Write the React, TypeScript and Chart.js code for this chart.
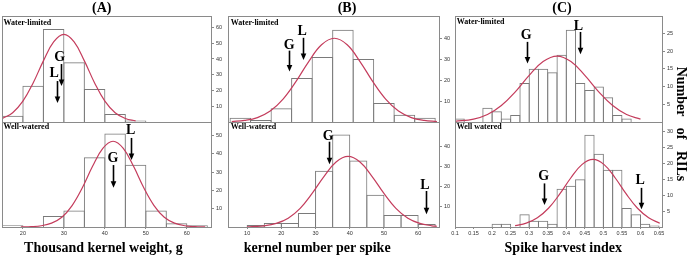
import React, { useEffect, useRef } from "react";
import { Chart, registerables } from "chart.js";
Chart.register(...registerables);

// ---------------- Panel A: thousand kernel weight (g) ----------------
const tkwTicks = [20, 30, 40, 50, 60];
const tkwTickLabels = ["20", "30", "40", "50", "60"];
const tkwWLBinCenters = [17.5, 22.5, 27.5, 32.5, 37.5, 42.5, 47.5];
const tkwWLCounts = [4, 23, 59, 38, 21, 5, 1];
const tkwWWBinCenters = [17.5, 22.5, 27.5, 32.5, 37.5, 42.5, 47.5, 52.5, 57.5, 62.5];
const tkwWWCounts = [1, 0, 6, 9, 38, 51, 34, 9, 2, 1];
const tkwWLCurveX = [15, 17.5, 20, 22.5, 25, 27.5, 30, 32.5, 35, 37.5, 40, 42.5, 45, 47.5];
const tkwWLCurveY = [2.2, 5.9, 13.2, 24.8, 38.8, 50.8, 55.6, 50.8, 38.8, 24.8, 13.2, 5.9, 2.2, 0.7];
const tkwWWCurveX = [19.5, 22, 24.5, 27, 29.5, 32, 34.5, 37, 39.5, 42, 44.5, 47, 49.5, 52, 54.5, 57, 59.5, 62, 64.5];
const tkwWWCurveY = [0.04, 0.2, 0.7, 2.1, 5.3, 11.7, 21.4, 33.1, 42.9, 46.8, 42.9, 33.1, 21.4, 11.7, 5.3, 2.1, 0.7, 0.2, 0.04];
const tkwWLYTicks = [10, 20, 30, 40, 50, 60];
const tkwWWYTicks = [10, 20, 30, 40, 50];
const tkwWLMarks = [
  { label: "G", labelX: 29.0, labelY: 41.9, x: 29.3, top: 36.8, tip: 22.9 },
  { label: "L", labelX: 27.6, labelY: 31.8, x: 28.2, top: 26.0, tip: 12.1 },
];
const tkwWWMarks = [
  { label: "G", labelX: 42.0, labelY: 38.0, x: 42.0, top: 33.8, tip: 21.4 },
  { label: "L", labelX: 46.3, labelY: 53.5, x: 46.5, top: 48.6, tip: 36.6 },
];

// ---------------- Panel B: kernel number per spike ----------------
const knsTicks = [10, 20, 30, 40, 50, 60];
const knsTickLabels = ["10", "20", "30", "40", "50", "60"];
const knsWLBinCenters = [8, 14, 20, 26, 32, 38, 44, 50, 56, 62];
const knsWLCounts = [2, 1, 6.5, 21, 31, 44, 30, 9, 3.5, 2];
const knsWWBinCenters = [12.5, 17.5, 22.5, 27.5, 32.5, 37.5, 42.5, 47.5, 52.5, 57.5, 62.5];
const knsWWCounts = [1, 2, 2, 7, 28, 46, 33, 16, 6, 6, 1.5];
const knsWLCurveX = [5.5, 9.25, 13, 16.75, 20.5, 24.25, 28, 31.75, 35.5, 39.25, 43, 46.75, 50.5, 54.25, 58, 61.75, 65.5];
const knsWLCurveY = [0.22, 0.74, 2.1, 5.2, 10.9, 19.2, 28.8, 36.8, 39.9, 36.8, 28.8, 19.2, 10.9, 5.2, 2.1, 0.74, 0.22];
const knsWWCurveX = [10, 11.5, 15, 18.5, 22, 25.5, 29, 32.5, 36, 39.5, 43, 46.5, 50, 53.5, 57, 60.5, 64, 65.5];
const knsWWCurveY = [0.1, 0.18, 0.6, 1.8, 4.4, 9.3, 16.7, 25.2, 32.3, 35.1, 32.3, 25.2, 16.7, 9.3, 4.4, 1.8, 0.6, 0.36];
const knsWLYTicks = [10, 20, 30, 40];
const knsWWYTicks = [10, 20, 30, 40];
const knsWLMarks = [
  { label: "G", labelX: 22.3, labelY: 37.0, x: 22.3, top: 34.0, tip: 24.0 },
  { label: "L", labelX: 26.1, labelY: 43.8, x: 26.3, top: 40.1, tip: 29.5 },
];
const knsWWMarks = [
  { label: "G", labelX: 33.7, labelY: 45.8, x: 33.9, top: 42.4, tip: 31.2 },
  { label: "L", labelX: 62.0, labelY: 21.2, x: 62.25, top: 17.9, tip: 6.3 },
];

// ---------------- Panel C: spike harvest index ----------------
const shiTicks = [0.1, 0.15, 0.2, 0.25, 0.3, 0.35, 0.4, 0.45, 0.5, 0.55, 0.6, 0.65];
const shiTickLabels = ["0.1", "0.15", "0.2", "0.25", "0.3", "0.35", "0.4", "0.45", "0.5", "0.55", "0.6", "0.65"];
const shiWLBinCenters = [0.1125, 0.1375, 0.1625, 0.1875, 0.2125, 0.2375, 0.2625, 0.2875, 0.3125, 0.3375, 0.3625, 0.3875, 0.4125, 0.4375, 0.4625, 0.4875, 0.5125, 0.5375, 0.5625];
const shiWLCounts = [1, 0, 0, 4, 3, 1, 2, 11, 15, 15, 14, 19, 26, 11, 9, 10, 7, 2, 1];
const shiWWBinCenters = [0.2125, 0.2375, 0.2625, 0.2875, 0.3125, 0.3375, 0.3625, 0.3875, 0.4125, 0.4375, 0.4625, 0.4875, 0.5125, 0.5375, 0.5625, 0.5875, 0.6125, 0.6375];
const shiWWCounts = [1, 1, 0, 4, 2, 2, 1, 12, 13, 15, 29, 23, 18, 18, 6, 4, 1, 0.5];
const shiWLCurveX = [0.1, 0.15, 0.1875, 0.225, 0.2625, 0.3, 0.3375, 0.375, 0.4125, 0.45, 0.4875, 0.525, 0.5625, 0.6];
const shiWLCurveY = [0.17, 0.82, 2.12, 4.64, 8.52, 13.14, 17.05, 18.6, 17.05, 13.14, 8.52, 4.64, 2.12, 0.82];
const shiWWCurveX = [0.262, 0.292, 0.322, 0.352, 0.382, 0.412, 0.442, 0.472, 0.502, 0.532, 0.562, 0.592, 0.622, 0.652];
const shiWWCurveY = [0.42, 1.2, 2.9, 5.9, 10.3, 15.4, 19.6, 21.25, 19.6, 15.4, 10.3, 5.9, 2.9, 1.2];
const shiWLYTicks = [5, 10, 15, 20, 25];
const shiWWYTicks = [5, 10, 15, 20, 25, 30];
const shiWLMarks = [
  { label: "G", labelX: 0.292, labelY: 24.7, x: 0.293, top: 22.6, tip: 16.5 },
  { label: "L", labelX: 0.433, labelY: 27.3, x: 0.437, top: 25.4, tip: 19.1 },
];
const shiWWMarks = [
  { label: "G", labelX: 0.339, labelY: 16.3, x: 0.341, top: 13.7, tip: 6.9 },
  { label: "L", labelX: 0.599, labelY: 15.1, x: 0.601, top: 12.3, tip: 5.6 },
];

const SERIF = "'Liberation Serif', 'Times New Roman', serif";
const SANS = "'Liberation Sans', Arial, sans-serif";
const GRAY = "#8a8a8a";
const BAR = "#7a7a7a";
const CURVE = "#c43c5c";

type Mark = { label: string; labelX: number; labelY: number; x: number; top: number; tip: number };
type Spec = {
  frame: { left: number; top: number; width: number; height: number };
  xMin: number; xMax: number; xTicks: number[]; xTickLabels: string[]; showX: boolean;
  yMax: number; yTicks: number[];
  binWidth: number; binCenters: number[]; counts: number[];
  curveX: number[]; curveY: number[]; marks: Mark[];
};

const PADL = 10, PADT = 10, PADB = 10, YW = 22, XH = 12;

const framePlugin = {
  id: "frame",
  afterDatasetsDraw(chart: any) {
    const { ctx, chartArea: a } = chart;
    ctx.save();
    ctx.strokeStyle = GRAY;
    ctx.lineWidth = 1;
    ctx.strokeRect(Math.round(a.left) + 0.5, Math.round(a.top) + 0.5, Math.round(a.right - a.left), Math.round(a.bottom - a.top));
    ctx.restore();
  },
};

function marksPlugin(marks: Mark[]) {
  return {
    id: "marks",
    afterDraw(chart: any) {
      const { ctx } = chart;
      const xs = chart.scales.x, ys = chart.scales.y;
      ctx.save();
      ctx.fillStyle = "#000";
      ctx.strokeStyle = "#000";
      ctx.font = `bold 14px ${SERIF}`;
      ctx.textAlign = "center";
      ctx.textBaseline = "alphabetic";
      for (const m of marks) {
        const lx = xs.getPixelForValue(m.labelX);
        const ly = ys.getPixelForValue(m.labelY);
        ctx.fillText(m.label, lx, ly + 4.7);
        const px = Math.round(xs.getPixelForValue(m.x)) + 0.5;
        const y0 = ys.getPixelForValue(m.top);
        const y1 = ys.getPixelForValue(m.tip);
        ctx.lineWidth = 1.6;
        ctx.beginPath();
        ctx.moveTo(px, y0);
        ctx.lineTo(px, y1 - 5);
        ctx.stroke();
        ctx.beginPath();
        ctx.moveTo(px - 2.8, y1 - 6.5);
        ctx.lineTo(px + 2.8, y1 - 6.5);
        ctx.lineTo(px, y1);
        ctx.closePath();
        ctx.fill();
      }
      ctx.restore();
    },
  };
}

function Panel({ spec }: { spec: Spec }) {
  const ref = useRef<HTMLCanvasElement>(null);
  const cw = PADL + spec.frame.width + YW;
  const ch = PADT + spec.frame.height + (spec.showX ? XH : 0) + PADB;
  useEffect(() => {
    const binPx = (spec.binWidth / (spec.xMax - spec.xMin)) * spec.frame.width;
    const tickFont = { family: SANS, size: 5.5 };
    const chart = new Chart(ref.current as HTMLCanvasElement, {
      type: "bar",
      data: {
        datasets: [
          {
            type: "line",
            data: spec.curveX.map((x, i) => ({ x, y: spec.curveY[i] })),
            borderColor: CURVE,
            borderWidth: 1.2,
            pointRadius: 0,
            tension: 0.4,
            fill: false,
            order: 1,
          } as any,
          {
            type: "bar",
            data: spec.binCenters.map((x, i) => ({ x, y: spec.counts[i] })),
            backgroundColor: "rgba(255,255,255,0)",
            borderColor: BAR,
            borderWidth: 1,
            borderSkipped: "start",
            grouped: false,
            barPercentage: 1 + 1 / binPx,
            categoryPercentage: 1,
            inflateAmount: 0,
            order: 2,
          } as any,
        ],
      },
      options: {
        animation: false,
        responsive: false,
        devicePixelRatio: 1,
        events: [],
        layout: { padding: { left: PADL, top: PADT, right: 0, bottom: PADB } },
        plugins: { legend: { display: false }, tooltip: { enabled: false }, title: { display: false } },
        scales: {
          x: {
            type: "linear",
            position: "bottom",
            min: spec.xMin,
            max: spec.xMax,
            bounds: "data",
            offset: false,
            display: spec.showX,
            grid: { drawOnChartArea: false, drawTicks: true, tickLength: 2, color: GRAY, offset: false },
            border: { display: false },
            ticks: {
              font: tickFont,
              color: "#333",
              padding: 1,
              maxRotation: 0,
              autoSkip: false,
              callback: (_v: any, i: number) => spec.xTickLabels[i],
            },
            afterBuildTicks: (axis: any) => {
              axis.ticks = spec.xTicks.map((v) => ({ value: v }));
            },
            afterFit: (axis: any) => {
              axis.height = spec.showX ? XH : 0;
            },
          } as any,
          y: {
            type: "linear",
            position: "right",
            min: 0,
            max: spec.yMax,
            bounds: "data",
            grid: { drawOnChartArea: false, drawTicks: true, tickLength: 3, color: GRAY },
            border: { display: false },
            ticks: { font: tickFont, color: "#333", padding: 2, autoSkip: false },
            afterBuildTicks: (axis: any) => {
              axis.ticks = spec.yTicks.map((v) => ({ value: v }));
            },
            afterFit: (axis: any) => {
              axis.width = YW;
            },
          } as any,
        },
      },
      plugins: [framePlugin, marksPlugin(spec.marks)],
    });
    return () => chart.destroy();
  }, []);
  return (
    <canvas
      ref={ref}
      width={cw}
      height={ch}
      style={{ position: "absolute", left: spec.frame.left - PADL, top: spec.frame.top - PADT, width: cw, height: ch }}
    />
  );
}

function Txt({ text, x, baseline, size, center, style }: { text: string; x: number; baseline: number; size: number; center?: boolean; style?: any }) {
  return (
    <div
      style={{
        position: "absolute",
        left: center ? x - 200 : x,
        width: center ? 400 : undefined,
        textAlign: center ? "center" : "left",
        top: baseline - 0.8375 * size,
        fontSize: size,
        lineHeight: `${size}px`,
        fontFamily: SERIF,
        fontWeight: "bold",
        whiteSpace: "nowrap",
        color: "#000",
        ...style,
      }}
    >
      {text}
    </div>
  );
}

const UP = 16, MID = 122, BOT = 227;

const panels: Spec[] = [
  {
    frame: { left: 2, top: UP, width: 209, height: MID - UP },
    xMin: 14.9, xMax: 65.9, xTicks: tkwTicks, xTickLabels: tkwTickLabels, showX: false,
    yMax: 67.3, yTicks: tkwWLYTicks, binWidth: 5, binCenters: tkwWLBinCenters, counts: tkwWLCounts,
    curveX: tkwWLCurveX, curveY: tkwWLCurveY, marks: tkwWLMarks,
  },
  {
    frame: { left: 2, top: MID, width: 209, height: BOT - MID },
    xMin: 14.9, xMax: 65.9, xTicks: tkwTicks, xTickLabels: tkwTickLabels, showX: true,
    yMax: 57.3, yTicks: tkwWWYTicks, binWidth: 5, binCenters: tkwWWBinCenters, counts: tkwWWCounts,
    curveX: tkwWWCurveX, curveY: tkwWWCurveY, marks: tkwWWMarks,
  },
  {
    frame: { left: 228, top: UP, width: 211, height: MID - UP },
    xMin: 4.4, xMax: 66.1, xTicks: knsTicks, xTickLabels: knsTickLabels, showX: false,
    yMax: 50.5, yTicks: knsWLYTicks, binWidth: 6, binCenters: knsWLBinCenters, counts: knsWLCounts,
    curveX: knsWLCurveX, curveY: knsWLCurveY, marks: knsWLMarks,
  },
  {
    frame: { left: 228, top: MID, width: 211, height: BOT - MID },
    xMin: 4.4, xMax: 66.1, xTicks: knsTicks, xTickLabels: knsTickLabels, showX: true,
    yMax: 52.2, yTicks: knsWWYTicks, binWidth: 5, binCenters: knsWWBinCenters, counts: knsWWCounts,
    curveX: knsWWCurveX, curveY: knsWWCurveY, marks: knsWWMarks,
  },
  {
    frame: { left: 455, top: UP, width: 207, height: MID - UP },
    xMin: 0.1, xMax: 0.658, xTicks: shiTicks, xTickLabels: shiTickLabels, showX: false,
    yMax: 29.9, yTicks: shiWLYTicks, binWidth: 0.025, binCenters: shiWLBinCenters, counts: shiWLCounts,
    curveX: shiWLCurveX, curveY: shiWLCurveY, marks: shiWLMarks,
  },
  {
    frame: { left: 455, top: MID, width: 207, height: BOT - MID },
    xMin: 0.1, xMax: 0.658, xTicks: shiTicks, xTickLabels: shiTickLabels, showX: true,
    yMax: 33.0, yTicks: shiWWYTicks, binWidth: 0.025, binCenters: shiWWBinCenters, counts: shiWWCounts,
    curveX: shiWWCurveX, curveY: shiWWCurveY, marks: shiWWMarks,
  },
];

export default function App() {
  return (
    <div style={{ position: "absolute", left: 0, top: 0, width: 693, height: 256, overflow: "hidden", background: "#fff" }}>
      {panels.map((p, i) => (
        <Panel key={i} spec={p} />
      ))}
      <Txt text="(A)" x={101.7} baseline={12.3} size={14} center />
      <Txt text="(B)" x={347} baseline={12.3} size={14} center />
      <Txt text="(C)" x={562} baseline={12.3} size={14} center />
      <Txt text="Water-limited" x={3.5} baseline={25.5} size={8} />
      <Txt text="Water-limited" x={230.7} baseline={25.3} size={8} />
      <Txt text="Water-limited" x={456.7} baseline={24.9} size={8} />
      <Txt text="Well-watered" x={3.5} baseline={130} size={8} />
      <Txt text="Well-watered" x={230.7} baseline={130} size={8} />
      <Txt text="Well watered" x={456.7} baseline={130} size={8} />
      <Txt text="Thousand kernel weight, g" x={103.4} baseline={252.7} size={14} center />
      <Txt text="kernel number per spike" x={317.2} baseline={252.4} size={14} center />
      <Txt text="Spike harvest index" x={563.3} baseline={252.6} size={14} center />
      <div
        style={{
          position: "absolute",
          left: 681 - 100,
          top: 124 - 10,
          width: 200,
          height: 20,
          lineHeight: "20px",
          textAlign: "center",
          fontFamily: SERIF,
          fontWeight: "bold",
          fontSize: 14,
          wordSpacing: 8,
          whiteSpace: "nowrap",
          transform: "rotate(90deg)",
        }}
      >
        Number of RILs
      </div>
    </div>
  );
}
